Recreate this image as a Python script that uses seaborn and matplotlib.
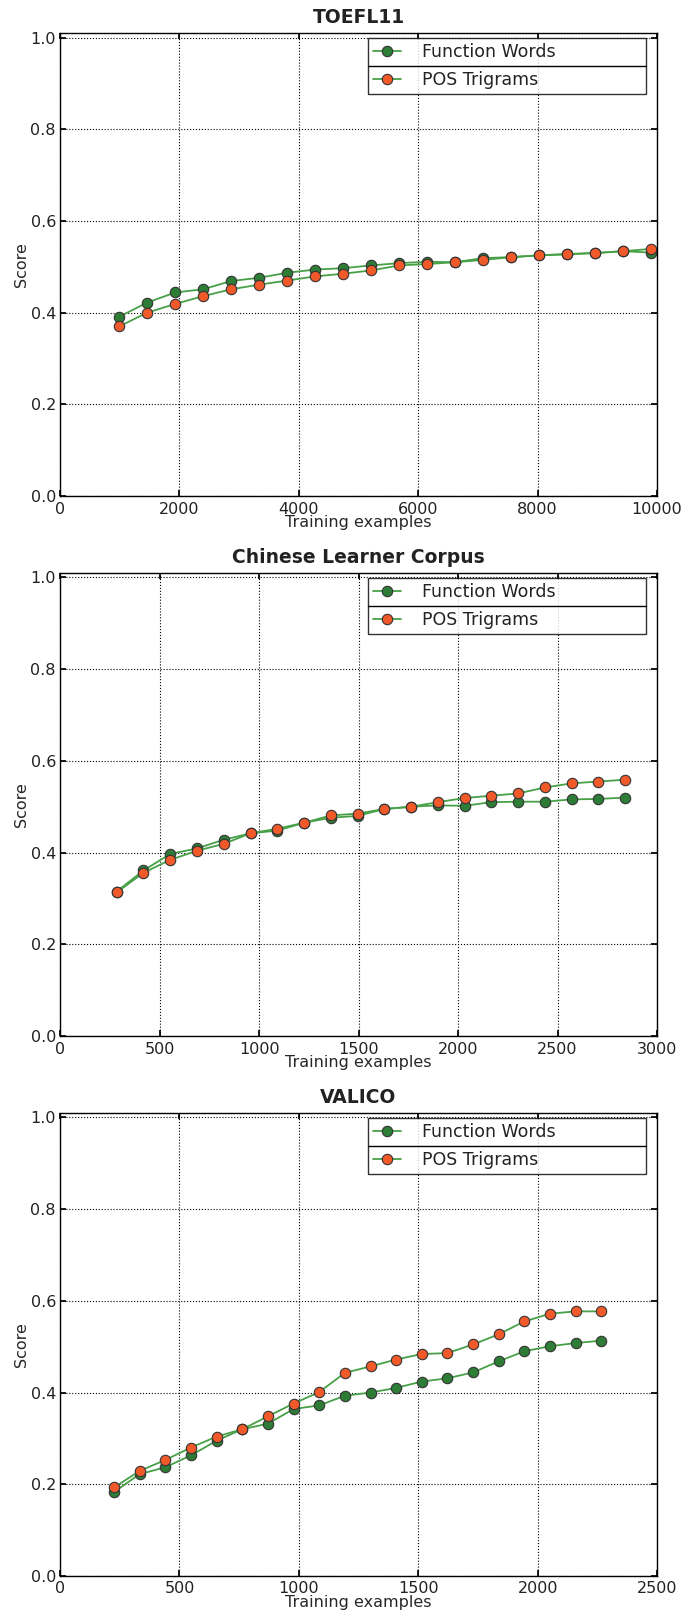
import numpy as np
import pandas as pd
import matplotlib
matplotlib.use("Agg")
import matplotlib.pyplot as plt
import seaborn as sns
from matplotlib.lines import Line2D

## data -----------------------------------------------------------------------
toefl_x = [990, 1459, 1928, 2397, 2866, 3334, 3803, 4272, 4741, 5210,
           5679, 6148, 6617, 7086, 7555, 8023, 8492, 8961, 9430, 9900]
toefl_fw = [0.391, 0.422, 0.444, 0.451, 0.469, 0.476, 0.487, 0.494, 0.497, 0.503,
            0.508, 0.511, 0.510, 0.519, 0.521, 0.525, 0.528, 0.530, 0.534, 0.531]
toefl_pos = [0.370, 0.400, 0.419, 0.436, 0.451, 0.461, 0.470, 0.479, 0.485, 0.492,
             0.503, 0.506, 0.510, 0.515, 0.521, 0.525, 0.527, 0.530, 0.534, 0.539]

clc_x = [284, 419, 553, 688, 822, 957, 1091, 1226, 1360, 1495,
         1629, 1764, 1898, 2033, 2167, 2302, 2436, 2571, 2705, 2840]
clc_fw = [0.315, 0.361, 0.397, 0.409, 0.428, 0.442, 0.448, 0.465, 0.476, 0.480,
          0.495, 0.500, 0.503, 0.502, 0.510, 0.511, 0.511, 0.516, 0.517, 0.520]
clc_pos = [0.313, 0.356, 0.384, 0.404, 0.419, 0.442, 0.452, 0.465, 0.481, 0.485,
           0.495, 0.500, 0.510, 0.519, 0.524, 0.529, 0.542, 0.551, 0.555, 0.559]

valico_x = [226, 333, 441, 548, 656, 763, 870, 978, 1085, 1193,
            1300, 1407, 1515, 1622, 1730, 1837, 1944, 2052, 2159, 2265]
valico_fw = [0.183, 0.222, 0.237, 0.263, 0.295, 0.320, 0.332, 0.364, 0.372, 0.393,
             0.400, 0.410, 0.424, 0.431, 0.444, 0.468, 0.490, 0.501, 0.508, 0.513]
valico_pos = [0.193, 0.229, 0.253, 0.280, 0.304, 0.320, 0.348, 0.376, 0.401, 0.443,
              0.457, 0.472, 0.484, 0.486, 0.505, 0.527, 0.555, 0.572, 0.577, 0.577]

titles = ["TOEFL11", "Chinese Learner Corpus", "VALICO"]
xmaxes = [10000, 3000, 2500]
xsteps = [2000, 500, 500]
series_names = ["Function Words", "POS Trigrams"]

## style ----------------------------------------------------------------------
sns.set_theme(style="white")
plt.rcParams.update({
    "font.family": ["DejaVu Sans"],
    "xtick.direction": "in", "ytick.direction": "in",
    "xtick.top": True, "ytick.right": True,
    "xtick.bottom": True, "ytick.left": True,
    "xtick.major.size": 4, "ytick.major.size": 4,
    "xtick.color": "black", "ytick.color": "black",
    "axes.edgecolor": "black", "axes.linewidth": 1.0,
    "text.color": "#222222",
})

line_c = "#47a047"
fw_face = "#2e7d36"
pos_face = "#f05a2a"

fig, axes = plt.subplots(3, 1, figsize=(6.83, 16.16), dpi=100)
fig.subplots_adjust(left=0.088, right=0.962, top=0.9796, bottom=0.0248, hspace=0.166)

panels = [(toefl_x, toefl_fw, toefl_pos),
          (clc_x, clc_fw, clc_pos),
          (valico_x, valico_fw, valico_pos)]

legends = []
for ax, (xs, fw, pos), title, xmax, xstep in zip(axes, panels, titles, xmaxes, xsteps):
    df = pd.DataFrame({"x": xs, "fw": fw, "pos": pos})
    sns.lineplot(data=df, x="x", y="fw", ax=ax, color=line_c, lw=1.3,
                 marker="o", markersize=7.5, markerfacecolor=fw_face,
                 markeredgecolor="#333333", markeredgewidth=0.8,
                 label=series_names[0])
    sns.lineplot(data=df, x="x", y="pos", ax=ax, color=line_c, lw=1.3,
                 marker="o", markersize=7.5, markerfacecolor=pos_face,
                 markeredgecolor="#333333", markeredgewidth=0.8,
                 label=series_names[1])
    ax.set_xlim(0, xmax)
    ax.set_ylim(0, 1.01)
    ax.set_xticks(np.arange(0, xmax + 1, xstep))
    ax.set_yticks([0.0, 0.2, 0.4, 0.6, 0.8, 1.0])
    ax.set_yticklabels(["0.0", "0.2", "0.4", "0.6", "0.8", "1.0"])
    ax.tick_params(axis="x", labelsize=11.5, pad=4, labelcolor="#222222")
    ax.tick_params(axis="y", labelsize=11.5, pad=3, labelcolor="#222222")
    ax.grid(True, linestyle=":", color="black", linewidth=0.8)
    ax.set_title(title, fontsize=13.5, fontweight="bold", pad=7)
    ax.set_xlabel("Training examples", fontsize=11.5, labelpad=-1)
    ax.set_ylabel("Score", fontsize=11.5, labelpad=1)
    leg = ax.legend(loc="upper left", bbox_to_anchor=(0.516, 0.866, 0.465, 0.123),
                    mode="expand", fontsize=12.5, frameon=True, fancybox=False,
                    borderaxespad=0.0, handlelength=1.6, borderpad=0.3,
                    labelspacing=0.55, handletextpad=1.2)
    leg.get_frame().set_edgecolor("black")
    leg.get_frame().set_linewidth(1.0)
    for sp in ax.spines.values():
        sp.set_visible(True)
    legends.append((ax, leg))

# separator line between legend entries
fig.canvas.draw()
for ax, leg in legends:
    bb = leg.get_window_extent().transformed(fig.transFigure.inverted())
    ymid = (bb.y0 + bb.y1) / 2
    fig.add_artist(Line2D([bb.x0, bb.x1], [ymid, ymid], color="black", lw=1.0,
                          transform=fig.transFigure))

fig.savefig("out.png", dpi=100)
